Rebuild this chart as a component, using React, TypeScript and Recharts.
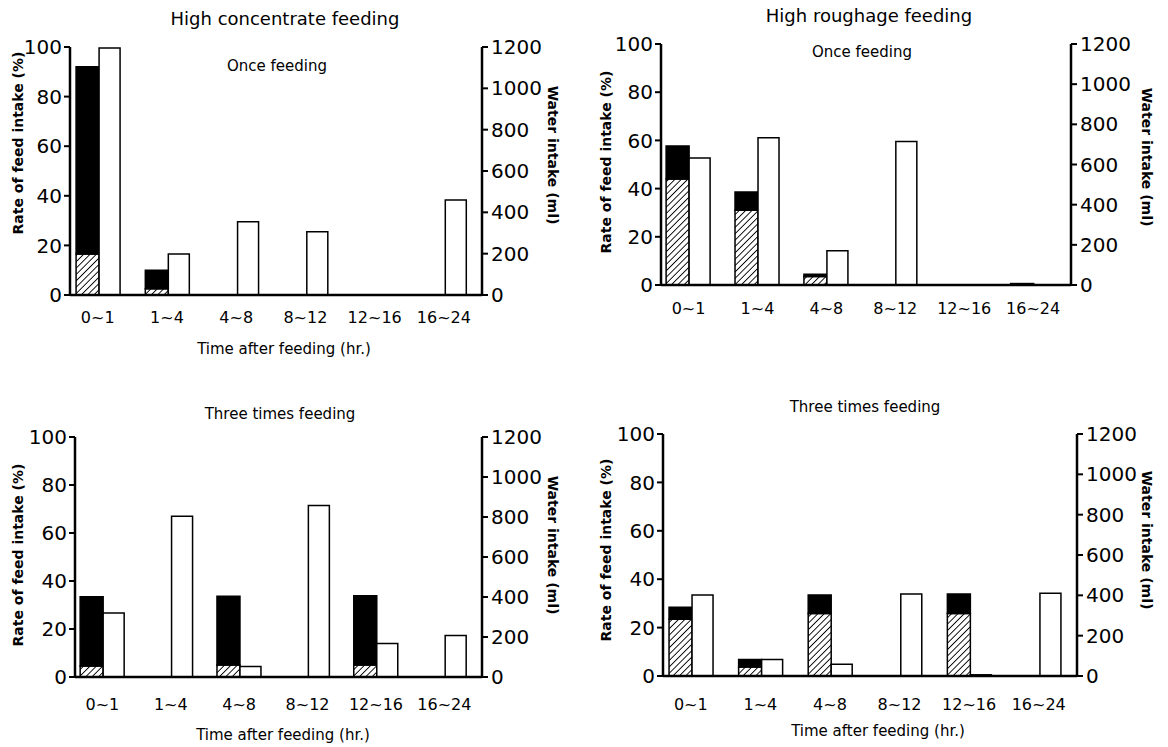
import React from "react"
import { BarChart, Bar, XAxis, YAxis } from "recharts"

// time windows after feeding
const categories = ["0~1", "1~4", "4~8", "8~12", "12~16", "16~24"]

// High concentrate, once feeding
const hcOnceHatched = [16.5, 2.5, 0, 0, 0, 0]
const hcOnceSolid = [75.5, 7.5, 0, 0, 0, 0]
const hcOnceWater = [1195, 198, 354, 306, 0, 460]

// High roughage, once feeding
const hrOnceHatched = [44, 31, 3.5, 0, 0, 0]
const hrOnceSolid = [13.7, 7.6, 1, 0, 0, 0.6]
const hrOnceWater = [632, 733, 170, 715, 0, 0]

// High concentrate, three times feeding
const hcThreeHatched = [4.6, 0, 5, 0, 5, 0]
const hcThreeSolid = [28.8, 0, 28.6, 0, 28.9, 0]
const hcThreeWater = [320, 804, 52, 857, 167, 208]

// High roughage, three times feeding
const hrThreeHatched = [23.5, 3.7, 25.8, 0, 25.8, 0]
const hrThreeSolid = [4.9, 3.1, 7.7, 0, 8.1, 0]
const hrThreeWater = [402, 82, 58, 407, 6, 410]

const feedTicks = [0, 20, 40, 60, 80, 100]
const waterTicks = [0, 200, 400, 600, 800, 1000, 1200]

const FONT = '"DejaVu Sans", sans-serif'

const buildRows = (hatched: number[], solid: number[], water: number[]) =>
  categories.map((c, i) => ({ idx: i, cat: c, hatched: hatched[i], solid: solid[i], water: water[i] }))

interface PanelProps {
  id: string
  rows: any[]
  left: number
  top: number
  width: number
  height: number
  margin: { top: number; right: number; bottom: number; left: number }
  leftW: number
  rightW: number
  tickGap: number
}

function Panel({ id, rows, left, top, width, height, margin, leftW, rightW, tickGap }: PanelProps) {
  const axisStyle = { stroke: "#000", strokeWidth: 2.5 }
  return (
    <div style={{ position: "absolute", left, top }}>
      <BarChart width={width} height={height} data={rows} margin={margin} barGap={0}>
        <defs>
          <pattern id={id} width="4.5" height="4.5" patternUnits="userSpaceOnUse" patternTransform="rotate(45)">
            <rect width="4.5" height="4.5" fill="#fff" />
            <line x1="0" y1="0" x2="0" y2="4.5" stroke="#000" strokeWidth="1.8" />
          </pattern>
        </defs>
        <XAxis
          dataKey="idx"
          type="number"
          domain={[-0.4, 5.55]}
          allowDataOverflow
          ticks={[0, 1, 2, 3, 4, 5]}
          interval={0}
          tickFormatter={(v: number) => categories[v] ?? ""}
          tickLine={false}
          axisLine={axisStyle}
          tick={{ fill: "#000", fontSize: 16, fontFamily: FONT }}
          tickMargin={tickGap}
          height={40}
        />
        <YAxis
          yAxisId="feed"
          domain={[0, 100]}
          ticks={feedTicks}
          interval={0}
          width={leftW}
          axisLine={axisStyle}
          tickLine={{ stroke: "#000", strokeWidth: 2 }}
          tickSize={6}
          tickMargin={2}
          tick={{ fill: "#000", fontSize: 20, fontFamily: FONT }}
        />
        <YAxis
          yAxisId="water"
          orientation="right"
          domain={[0, 1200]}
          ticks={waterTicks}
          interval={0}
          width={rightW}
          axisLine={axisStyle}
          tickLine={{ stroke: "#000", strokeWidth: 2 }}
          tickSize={6}
          tickMargin={3}
          tick={{ fill: "#000", fontSize: 20, fontFamily: FONT }}
        />
        <Bar yAxisId="feed" dataKey="hatched" stackId="feed" fill={`url(#${id})`} stroke="#000" strokeWidth={1.5} barSize={23} isAnimationActive={false} />
        <Bar yAxisId="feed" dataKey="solid" stackId="feed" fill="#000" stroke="#000" strokeWidth={1.5} barSize={23} isAnimationActive={false} />
        <Bar yAxisId="water" dataKey="water" fill="#fff" stroke="#000" strokeWidth={1.5} barSize={21} isAnimationActive={false} />
      </BarChart>
    </div>
  )
}

// plain text placed over the charts
function Note({ x, y, size, text, rotate = 0, bold = false }: { x: number; y: number; size: number; text: string; rotate?: number; bold?: boolean }) {
  return (
    <div
      style={{
        position: "absolute",
        left: x,
        top: y,
        transform: `translate(-50%, -50%) rotate(${rotate}deg)`,
        fontFamily: FONT,
        fontSize: size,
        fontWeight: bold ? "bold" : "normal",
        whiteSpace: "nowrap",
        color: "#000",
      }}
    >
      {text}
    </div>
  )
}

export default function App() {
  return (
    <div style={{ position: "absolute", left: 0, top: 0, width: 1168, height: 747, background: "#fff", overflow: "hidden" }}>
      <Panel
        id="hatchTL"
        rows={buildRows(hcOnceHatched, hcOnceSolid, hcOnceWater)}
        left={0} top={0} width={580} height={345}
        margin={{ top: 47, right: 0, bottom: 10, left: 0 }}
        leftW={70} rightW={98} tickGap={11}
      />
      <Panel
        id="hatchTR"
        rows={buildRows(hrOnceHatched, hrOnceSolid, hrOnceWater)}
        left={580} top={0} width={588} height={340}
        margin={{ top: 44, right: 0, bottom: 15, left: 0 }}
        leftW={81} rightW={97} tickGap={12}
      />
      <Panel
        id="hatchBL"
        rows={buildRows(hcThreeHatched, hcThreeSolid, hcThreeWater)}
        left={0} top={380} width={580} height={367}
        margin={{ top: 57, right: 0, bottom: 30, left: 0 }}
        leftW={75} rightW={98} tickGap={16}
      />
      <Panel
        id="hatchBR"
        rows={buildRows(hrThreeHatched, hrThreeSolid, hrThreeWater)}
        left={580} top={380} width={588} height={367}
        margin={{ top: 54, right: 0, bottom: 31, left: 0 }}
        leftW={83} rightW={91} tickGap={17}
      />

      <Note x={285} y={18} size={18} text="High concentrate feeding" />
      <Note x={869} y={15} size={18} text="High roughage feeding" />
      <Note x={277} y={66} size={15} text="Once feeding" />
      <Note x={862} y={52} size={15} text="Once feeding" />
      <Note x={280} y={414} size={15} text="Three times feeding" />
      <Note x={865} y={407} size={15} text="Three times feeding" />

      <Note x={284} y={349} size={15} text="Time after feeding (hr.)" />
      <Note x={283} y={735} size={15} text="Time after feeding (hr.)" />
      <Note x={878} y={731} size={15} text="Time after feeding (hr.)" />

      <Note x={18} y={143} size={14} bold rotate={-90} text="Rate of feed intake (%)" />
      <Note x={606} y={162} size={14} bold rotate={-90} text="Rate of feed intake (%)" />
      <Note x={18} y={555} size={14} bold rotate={-90} text="Rate of feed intake (%)" />
      <Note x={606} y={550} size={14} bold rotate={-90} text="Rate of feed intake (%)" />

      <Note x={553} y={155} size={14} bold rotate={90} text="Water intake (ml)" />
      <Note x={1147} y={157} size={14} bold rotate={90} text="Water intake (ml)" />
      <Note x={553} y={545} size={14} bold rotate={90} text="Water intake (ml)" />
      <Note x={1147} y={540} size={14} bold rotate={90} text="Water intake (ml)" />
    </div>
  )
}
